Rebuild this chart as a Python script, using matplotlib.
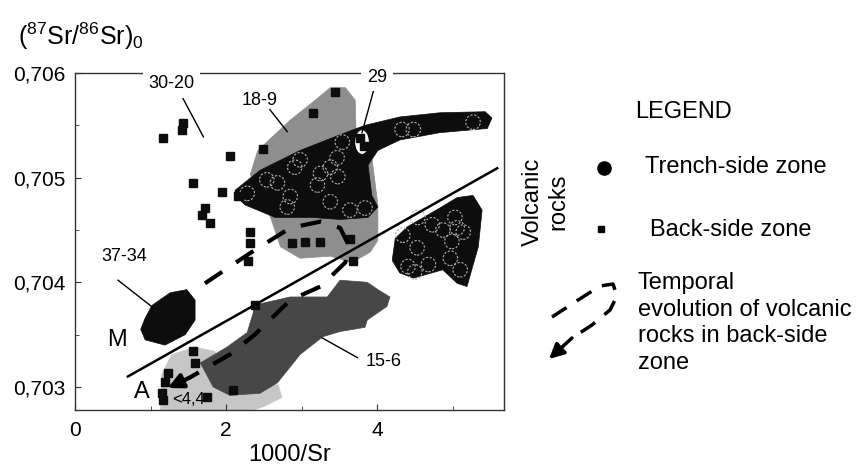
import matplotlib
matplotlib.use("Agg")
import matplotlib.pyplot as plt
from matplotlib.patches import Polygon, Ellipse
from matplotlib.ticker import MultipleLocator, FuncFormatter

plt.rcParams['font.family'] = ['Liberation Sans', 'DejaVu Sans']
plt.rcParams['mathtext.fontset'] = 'custom'
plt.rcParams['mathtext.rm'] = 'Liberation Sans'
plt.rcParams['mathtext.it'] = 'Liberation Sans:italic'

# back-side zone samples (squares)
back_x = [1.17, 1.42, 1.43, 2.05, 2.49, 1.56, 1.95, 1.72, 1.68, 1.79, 2.32, 2.32, 2.29, 3.15, 3.44, 2.87,
          3.05, 3.25, 3.64, 3.68, 2.38, 1.56, 1.59, 1.23, 1.19, 1.15, 1.17, 1.75, 2.09, 2.16, 3.77, 3.82]
back_y = [0.70538, 0.70546, 0.70552, 0.70521, 0.70527, 0.70495, 0.70486, 0.70471, 0.70464, 0.70457,
          0.70448, 0.70438, 0.70420, 0.70562, 0.70582, 0.70438, 0.70439, 0.70439, 0.70441, 0.70420,
          0.70378, 0.70334, 0.70323, 0.70313, 0.70305, 0.70294, 0.70288, 0.70290, 0.70297, 0.70482,
          0.70538, 0.70530]

# trench-side zone samples (circles)
trench_x = [2.68, 2.54, 2.28, 2.91, 2.98, 3.47, 3.54, 3.38, 3.21, 2.85, 2.81, 3.38, 3.64, 3.84, 3.25,
            3.48, 4.33, 4.48, 5.27, 4.34, 4.53, 4.73, 4.87, 5.06, 5.14, 4.99, 4.97, 5.10, 4.50, 4.41,
            4.68, 5.03, 4.54]
trench_y = [0.70495, 0.70498, 0.70485, 0.70510, 0.70517, 0.70519, 0.70534, 0.70510, 0.70493, 0.70482,
            0.70472, 0.70477, 0.70469, 0.70471, 0.70504, 0.70501, 0.70546, 0.70546, 0.70553, 0.70445,
            0.70433, 0.70455, 0.70450, 0.70452, 0.70448, 0.70439, 0.70423, 0.70412, 0.70410, 0.70415,
            0.70417, 0.70462, 0.70462]

# fields (outlines)
f18_x = [2.42, 2.85, 3.18, 3.38, 3.58, 3.71, 3.72, 3.91, 4.01, 4.01, 3.91, 3.67, 3.38, 2.98, 2.72, 2.58, 2.32]
f18_y = [0.70526, 0.70555, 0.70574, 0.70586, 0.70586, 0.70574, 0.70547, 0.70531, 0.70474, 0.70440,
         0.70429, 0.70419, 0.70425, 0.70423, 0.70434, 0.70464, 0.70503]

trench_fx = [2.12, 2.45, 2.98, 3.51, 3.84, 4.30, 4.83, 5.43, 5.52, 5.46, 4.83, 4.30, 4.01, 3.88, 3.93,
             4.01, 3.88, 3.51, 3.15, 2.65, 2.25, 2.12]
trench_fy = [0.70488, 0.70507, 0.70526, 0.70541, 0.70550, 0.70558, 0.70562, 0.70563, 0.70557, 0.70547,
             0.70543, 0.70536, 0.70526, 0.70512, 0.70483, 0.70472, 0.70462, 0.70460, 0.70462, 0.70462,
             0.70474, 0.70483]

f37_x = [0.93, 1.02, 1.26, 1.48, 1.59, 1.59, 1.46, 1.19, 0.93, 0.87]
f37_y = [0.70366, 0.70378, 0.70390, 0.70393, 0.70383, 0.70364, 0.70350, 0.70340, 0.70345, 0.70355]

s_x = [5.27, 5.39, 5.34, 5.19, 5.06, 4.87, 4.48, 4.30, 4.20, 4.24, 4.40, 4.83, 5.06]
s_y = [0.70483, 0.70469, 0.70434, 0.70396, 0.70399, 0.70412, 0.70404, 0.70409, 0.70421, 0.70442,
       0.70453, 0.70471, 0.70481]

f15_x = [2.36, 2.85, 3.34, 3.51, 3.87, 4.01, 4.17, 4.13, 3.87, 3.84, 3.51, 3.28, 2.98, 2.68, 2.45,
         2.05, 1.83, 1.66, 2.01, 2.28, 2.36]
f15_y = [0.70378, 0.70386, 0.70386, 0.70402, 0.70400, 0.70393, 0.70386, 0.70377, 0.70364, 0.70357,
         0.70353, 0.70348, 0.70331, 0.70304, 0.70294, 0.70292, 0.70300, 0.70323, 0.70338, 0.70352, 0.70371]

f44_x = [1.13, 1.15, 1.28, 1.59, 1.85, 1.99, 2.45, 2.69, 2.74, 2.52, 2.05]
f44_y = [0.70270, 0.70312, 0.70331, 0.70338, 0.70334, 0.70316, 0.70302, 0.70302, 0.70290, 0.70282, 0.70270]

# M / A boundary line
line_x = [0.70, 5.59]
line_y = [0.70310, 0.70509]

# temporal evolution path
evo_x = [1.72, 2.32, 2.85, 3.25, 3.51, 3.62, 3.58, 3.25, 2.85, 2.38, 2.05, 1.52]
evo_y = [0.70399, 0.70428, 0.70452, 0.70458, 0.70452, 0.70436, 0.70419, 0.70396, 0.70383, 0.70350,
         0.70331, 0.70309]
evo_tip = (1.23, 0.70299)

fig = plt.figure(figsize=(8.64, 4.69), dpi=100)
ax = fig.add_axes([75 / 864, 1 - 410 / 469, 429 / 864, 337 / 469])

def field(xs, ys, color, z):
    ax.add_patch(Polygon(list(zip(xs, ys)), closed=True, facecolor=color, edgecolor=color,
                         linewidth=0.5, zorder=z))

field(f44_x, f44_y, '#c6c6c6', 1)
field(f15_x, f15_y, '#474747', 1.2)
field(f18_x, f18_y, '#8e8e8e', 1.1)
field(trench_fx, trench_fy, '#0d0d0d', 1.3)
field(f37_x, f37_y, '#0d0d0d', 1.3)
field(s_x, s_y, '#0d0d0d', 1.3)
ax.add_patch(Ellipse((3.80, 0.70534), 0.2, 0.00024, facecolor='white', edgecolor='#0d0d0d',
                     linewidth=1, zorder=1.4))

ax.scatter(trench_x, trench_y, s=110, facecolors='none', edgecolors='#b0b0b0', linewidths=0.8,
           linestyles=(0, (2, 1.5)), zorder=1.6)
ax.plot(back_x, back_y, 's', color='#0d0d0d', ms=6, zorder=3)

ax.plot(line_x, line_y, color='black', lw=1.8, zorder=4)
ax.plot(evo_x, evo_y, color='black', lw=3, dashes=(5, 4), zorder=4)
ax.annotate('', xy=evo_tip, xytext=(evo_x[-1], evo_y[-1]),
            arrowprops=dict(arrowstyle='-|>', color='black', lw=3, mutation_scale=22,
                            shrinkA=0, shrinkB=0), zorder=5)

ax.set_xlim(0, 5.68)
ax.set_ylim(0.70278, 0.706)
ax.xaxis.set_major_locator(MultipleLocator(2))
ax.xaxis.set_minor_locator(MultipleLocator(1))
ax.yaxis.set_major_locator(MultipleLocator(0.001))
ax.yaxis.set_minor_locator(MultipleLocator(0.0005))
ax.yaxis.set_major_formatter(FuncFormatter(lambda v, p: f"{v:.3f}".replace('.', ',')))
ax.tick_params(which='both', direction='in', labelsize=15, color='#333333')
ax.tick_params(which='major', length=4)
ax.tick_params(which='minor', length=3)
ax.tick_params(axis='x', pad=8)
ax.tick_params(axis='y', pad=7)
for s in ax.spines.values():
    s.set_linewidth(1)
    s.set_color('#333333')
ax.set_xlabel('1000/Sr', fontsize=17, labelpad=3)

# field labels
box = dict(facecolor='white', edgecolor='none', pad=4)
ax.text(1.28, 0.70590, '30-20', fontsize=13, ha='center', va='center', bbox=box, zorder=6)
ax.plot([1.42, 1.70], [0.70577, 0.70539], color='black', lw=1, zorder=5)
ax.text(2.45, 0.70574, '18-9', fontsize=13, ha='center', va='center', zorder=6)
ax.plot([2.58, 2.81], [0.70565, 0.70544], color='black', lw=1, zorder=5)
ax.text(4.00, 0.70596, '29', fontsize=13, ha='center', va='center', bbox=box, zorder=6)
ax.plot([3.96, 3.80], [0.70585, 0.70543], color='black', lw=1, zorder=5)
ax.text(0.65, 0.70425, '37-34', fontsize=13, ha='center', va='center', zorder=6)
ax.plot([0.57, 1.03], [0.70402, 0.70376], color='black', lw=1, zorder=5)
ax.text(4.08, 0.70324, '15-6', fontsize=13, ha='center', va='center', zorder=6)
ax.plot([3.27, 3.74], [0.70347, 0.70328], color='black', lw=1, zorder=5)
ax.text(0.56, 0.70345, 'M', fontsize=17, ha='center', va='center', zorder=6)
ax.text(0.89, 0.70295, 'A', fontsize=17, ha='center', va='center', zorder=6)
ax.text(1.50, 0.70288, '<4,4', fontsize=12, ha='center', va='center', zorder=6)

# y axis title
fig.text(18 / 864, 1 - 45 / 469, r'$(^{87}\mathrm{Sr}/^{86}\mathrm{Sr})_0$', fontsize=18,
         ha='left', va='baseline')

# side text and legend
fig.text(546 / 864, 1 - 202 / 469, 'Volcanic\nrocks', rotation=90, fontsize=17, ha='center',
         va='center', linespacing=1.2)
lg = fig.add_axes([0, 0, 1, 1], facecolor='none')
lg.set_xlim(0, 864)
lg.set_ylim(469, 0)
lg.axis('off')
lg.text(635, 112, 'LEGEND', fontsize=17, ha='left', va='center')
lg.plot([604], [168], 'o', color='black', ms=9.5)
lg.text(645, 167, 'Trench-side zone', fontsize=17, ha='left', va='center')
lg.plot([601], [229], 's', color='black', ms=5)
lg.text(650, 230, 'Back-side zone', fontsize=17, ha='left', va='center')
lg.plot([552, 575, 600, 613, 617, 610, 592, 572], [317, 302, 286, 284, 296, 310, 325, 338],
        color='black', lw=2.5, dashes=(5, 3.5))
lg.annotate('', xy=(549, 359), xytext=(572, 338),
            arrowprops=dict(arrowstyle='-|>', color='black', lw=2.5, mutation_scale=22,
                            shrinkA=0, shrinkB=0))
lg.text(638, 272, 'Temporal\nevolution of volcanic\nrocks in back-side\nzone', fontsize=17,
        ha='left', va='top', linespacing=1.27)

fig.savefig('out.png', dpi=100)
